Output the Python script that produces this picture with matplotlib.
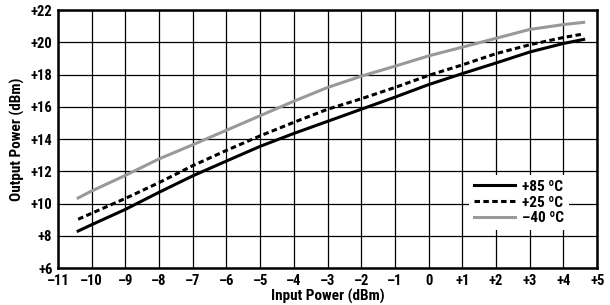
import matplotlib
matplotlib.use("Agg")
import matplotlib.pyplot as plt
from matplotlib import font_manager

# Data
input_power = [-10.4, -10, -9, -8, -7, -6, -5, -4, -3, -2, -1, 0, 1, 2, 3, 4, 4.6]
out_85 = [8.3, 8.69, 9.64, 10.7, 11.72, 12.64, 13.55, 14.35, 15.1, 15.85, 16.6, 17.38, 18.06, 18.72, 19.4, 19.93, 20.18]
out_25 = [9.03, 9.4, 10.32, 11.3, 12.35, 13.3, 14.2, 15.04, 15.85, 16.5, 17.2, 17.95, 18.6, 19.3, 19.85, 20.3, 20.52]
out_m40 = [10.35, 10.78, 11.75, 12.77, 13.65, 14.55, 15.45, 16.35, 17.2, 17.9, 18.52, 19.16, 19.7, 20.25, 20.8, 21.1, 21.24]
series_labels = ["+85 ºC", "+25 ºC", "–40 ºC"]

x_ticks = list(range(-11, 6))
x_tick_labels = ["–11", "–10", "–9", "–8", "–7", "–6", "–5", "–4", "–3", "–2", "–1", "0",
                 "+1", "+2", "+3", "+4", "+5"]
y_ticks = list(range(6, 23, 2))
y_tick_labels = ["+6", "+8", "+10", "+12", "+14", "+16", "+18", "+20", "+22"]

# choose a condensed family that has a bold face
bold_narrow = {}
for f in font_manager.fontManager.ttflist:
    if ("Narrow" in f.name or "Condensed" in f.name):
        w = f.weight if isinstance(f.weight, int) else font_manager.weight_dict.get(f.weight, 400)
        if w >= 600:
            bold_narrow.setdefault(f.name, f.fname)
pref = ["Liberation Sans Narrow", "Roboto Condensed", "Open Sans Condensed", "DejaVu Sans Condensed"]
font_file = None
for p in pref:
    if p in bold_narrow:
        font_file = bold_narrow[p]
        break
if font_file is None and bold_narrow:
    font_file = sorted(bold_narrow.items())[0][1]

if font_file:
    def fp(size):
        return font_manager.FontProperties(fname=font_file, size=size)
else:
    def fp(size):
        return font_manager.FontProperties(family="DejaVu Sans", weight="bold", stretch="condensed", size=size)

fig = plt.figure(figsize=(6.1, 3.05), dpi=100)
ax = fig.add_axes([0.095, 0.121, 0.884, 0.846])

ax.plot(input_power, out_85, color="black", lw=2.2, label=series_labels[0], zorder=4)
ax.plot(input_power, out_25, color="black", lw=2.2, ls=(0, (1.8, 1.1)), label=series_labels[1], zorder=4)
ax.plot(input_power, out_m40, color="#999999", lw=2.2, label=series_labels[2], zorder=3)

ax.set_xlim(-11, 5)
ax.set_ylim(6, 22)
ax.set_xticks(x_ticks)
ax.set_xticklabels(x_tick_labels, fontproperties=fp(10.5))
ax.set_yticks(y_ticks)
ax.set_yticklabels(y_tick_labels, fontproperties=fp(10.5))
ax.tick_params(length=0, pad=4)

ax.grid(True, color="black", lw=0.9)
ax.set_axisbelow(True)
for sp in ax.spines.values():
    sp.set_linewidth(1.8)
    sp.set_color("black")

ax.set_xlabel("Input Power (dBm)", fontproperties=fp(11), labelpad=1)
ax.set_ylabel("Output Power (dBm)", fontproperties=fp(11), labelpad=4)

leg = ax.legend(loc="upper left", bbox_to_anchor=(0.748, 0.39), frameon=True,
                fancybox=False, edgecolor="none", facecolor="white", framealpha=1,
                handlelength=2.7, handletextpad=0.5, labelspacing=0.12, borderpad=0.3,
                prop=fp(11))
leg.set_zorder(5)

fig.savefig("out.png", dpi=100)
